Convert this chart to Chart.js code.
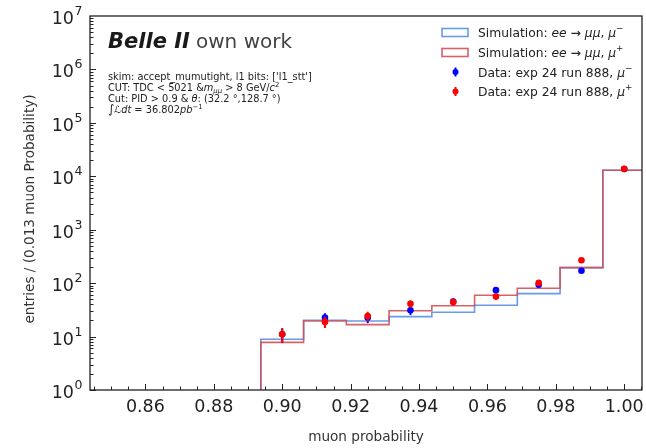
<!DOCTYPE html>
<html>
<head>
<meta charset="utf-8">
<script src="https://cdn.jsdelivr.net/npm/chart.js@4.4.1/dist/chart.umd.min.js"></script>
<style>
  body { margin: 0; background: #fff; }
</style>
</head>
<body>
<canvas id="muonChart" width="646" height="448"></canvas>
<script>
// bins of muon probability (width 0.0125)
const binEdges = [0.89375, 0.90625, 0.91875, 0.93125, 0.94375, 0.95625, 0.96875, 0.98125, 0.99375, 1.00625];
const binCenters = [0.9, 0.9125, 0.925, 0.9375, 0.95, 0.9625, 0.975, 0.9875, 1.0];

// simulation, scaled to data
const simMuMinus = [8.9, 20.2, 19.6, 23.6, 28.5, 38.6, 63.6, 195, 13000];
const simMuPlus = [7.8, 19.6, 16.7, 30.5, 37.7, 59.3, 80.2, 195, 13000];

// data exp 24 run 888
const dataMuMinus = [11, 22.6, 22.6, 31, 45, 74, 93, 171, 13700];
const dataMuPlus = [11, 18.8, 24.3, 41, 44.5, 56, 101, 268, 13760];

const xTicks = [0.86, 0.88, 0.90, 0.92, 0.94, 0.96, 0.98, 1.00];
const yExponents = [0, 1, 2, 3, 4, 5, 6, 7];

const FONT = '"DejaVu Sans", sans-serif';
const BLUE_SIM = 'rgba(95, 148, 235, 0.95)';
const RED_SIM = 'rgba(212, 80, 85, 0.9)';

// step outline: rise from the floor at the first edge, flat across each bin
function stepPoints(values) {
  const pts = [{ x: binEdges[0], y: 1e-3 }];
  values.forEach((v, i) => pts.push({ x: binEdges[i], y: v }));
  pts.push({ x: binEdges[binEdges.length - 1], y: values[values.length - 1] });
  return pts;
}

function points(values) {
  return values.map((v, i) => ({ x: binCenters[i], y: v }));
}

// draws a run of text pieces with mixed style / super- and subscripts
function rich(ctx, x, y, parts, size) {
  parts.forEach(p => {
    if (typeof p === 'string') p = { t: p };
    const fs = size * (p.s || 1);
    ctx.font = (p.i ? 'italic ' : '') + fs + 'px ' + FONT;
    ctx.fillText(p.t, x, y + (p.dy || 0) * size);
    x += ctx.measureText(p.t).width;
  });
  return x;
}

const decorations = {
  id: 'decorations',
  beforeDatasetDraw(chart, args) {
    const ds = chart.data.datasets[args.index];
    if (!ds.errors) return;
    const { x, y } = chart.scales;
    const ctx = chart.ctx;
    ctx.save();
    ctx.beginPath();
    ctx.rect(chart.chartArea.left, chart.chartArea.top, chart.chartArea.width, chart.chartArea.height);
    ctx.clip();
    ctx.strokeStyle = ds.backgroundColor;
    ctx.lineWidth = 2;
    ds.data.forEach((p, i) => {
      const e = ds.errors[i];
      const px = x.getPixelForValue(p.x);
      ctx.beginPath();
      ctx.moveTo(px, y.getPixelForValue(Math.max(p.y - e, 1e-3)));
      ctx.lineTo(px, y.getPixelForValue(p.y + e));
      ctx.stroke();
    });
    ctx.restore();
  },
  afterDraw(chart) {
    const ctx = chart.ctx;
    const { left, right, top, bottom } = chart.chartArea;
    const { x, y } = chart.scales;
    ctx.save();
    ctx.strokeStyle = '#222';
    ctx.fillStyle = '#222';

    // frame
    ctx.lineWidth = 1.3;
    ctx.strokeRect(left, top, right - left, bottom - top);

    // x ticks, pointing inward
    ctx.lineWidth = 1;
    for (let k = 169; k <= 201; k++) {
      const px = Math.round(x.getPixelForValue(k * 0.005)) + 0.5;
      const len = k % 4 === 0 ? 6 : 3.5;
      ctx.beginPath();
      ctx.moveTo(px, bottom);
      ctx.lineTo(px, bottom - len);
      ctx.stroke();
    }
    // y ticks (decades and minors)
    for (let n = 0; n < 7; n++) {
      for (let m = 1; m <= 9; m++) {
        const py = Math.round(y.getPixelForValue(m * Math.pow(10, n))) + 0.5;
        const len = m === 1 ? 6 : 3.5;
        ctx.beginPath();
        ctx.moveTo(left, py);
        ctx.lineTo(left + len, py);
        ctx.stroke();
      }
    }

    // tick labels
    ctx.textBaseline = 'alphabetic';
    ctx.textAlign = 'center';
    ctx.font = '17.5px ' + FONT;
    xTicks.forEach(v => {
      ctx.fillText(v.toFixed(2), x.getPixelForValue(v), bottom + 22);
    });
    yExponents.forEach(n => {
      const py = y.getPixelForValue(Math.pow(10, n));
      ctx.textAlign = 'right';
      ctx.font = '17.5px ' + FONT;
      ctx.fillText('10', 74, py + 8);
      ctx.textAlign = 'left';
      ctx.font = '12.5px ' + FONT;
      ctx.fillText(String(n), 74.5, py - 1);
    });

    // axis titles
    ctx.fillStyle = '#333';
    ctx.textAlign = 'center';
    ctx.font = '13.6px ' + FONT;
    ctx.fillText('muon probability', (left + right) / 2, 441);
    ctx.save();
    ctx.translate(34, (top + bottom) / 2 + 6);
    ctx.rotate(-Math.PI / 2);
    ctx.fillText('entries / (0.013 muon Probability)', 0, 0);
    ctx.restore();

    // experiment label
    ctx.textAlign = 'left';
    ctx.fillStyle = '#1a1a1a';
    ctx.font = 'italic bold 21px ' + FONT;
    ctx.fillText('Belle II', 108, 48);
    ctx.fillStyle = '#444';
    ctx.font = '20px ' + FONT;
    ctx.fillText('own work', 196, 48);

    // selection notes
    ctx.fillStyle = '#222';
    const fs = 9.8;
    rich(ctx, 108, 80, ["skim: accept_mumutight, l1 bits: ['l1_stt']"], fs);
    rich(ctx, 108, 91, ['CUT: TDC < 5021 &', { t: 'm', i: true }, { t: 'μμ', i: true, s: 0.7, dy: 0.25 },
      ' > 8 GeV/', { t: 'c', i: true }, { t: '2', s: 0.7, dy: -0.4 }], fs);
    rich(ctx, 108, 102, ['Cut: PID > 0.9 & ', { t: 'θ', i: true }, ': (32.2 °,128.7 °)'], fs);
    rich(ctx, 108, 113, [{ t: '∫', s: 1.2 }, { t: 'ℒdt', i: true }, ' = 36.802', { t: 'pb', i: true },
      { t: '−1', s: 0.7, dy: -0.4 }], fs);

    // legend
    const lf = 12.3;
    const rows = [
      { kind: 'box', color: BLUE_SIM, y: 32.5, sign: '−', text: ['Simulation: ', { t: 'ee', i: true }, ' → ', { t: 'μμ', i: true }, ', '] },
      { kind: 'box', color: RED_SIM, y: 52.5, sign: '+', text: ['Simulation: ', { t: 'ee', i: true }, ' → ', { t: 'μμ', i: true }, ', '] },
      { kind: 'dot', color: '#0000ff', y: 72, sign: '−', text: ['Data: exp 24 run 888, '] },
      { kind: 'dot', color: '#ff0000', y: 91.5, sign: '+', text: ['Data: exp 24 run 888, '] }
    ];
    rows.forEach(r => {
      ctx.save();
      if (r.kind === 'box') {
        ctx.strokeStyle = r.color;
        ctx.lineWidth = 1.6;
        ctx.strokeRect(442, r.y - 4, 26, 8);
      } else {
        ctx.strokeStyle = r.color;
        ctx.fillStyle = r.color;
        ctx.lineWidth = 2;
        ctx.beginPath();
        ctx.moveTo(455.5, r.y - 4.5);
        ctx.lineTo(455.5, r.y + 4.5);
        ctx.stroke();
        ctx.beginPath();
        ctx.arc(455.5, r.y, 3, 0, Math.PI * 2);
        ctx.fill();
      }
      ctx.restore();
      ctx.fillStyle = '#222';
      rich(ctx, 478, r.y + 4.5, r.text.concat([{ t: 'μ', i: true }, { t: r.sign, s: 0.72, dy: -0.45 }]), lf);
    });
    ctx.restore();
  }
};

const stepStyle = {
  type: 'line',
  stepped: true,
  borderWidth: 1.6,
  pointRadius: 0,
  fill: false
};

new Chart(document.getElementById('muonChart'), {
  data: {
    datasets: [
      Object.assign({}, stepStyle, {
        label: 'Simulation: ee → μμ, μ−',
        data: stepPoints(simMuMinus),
        borderColor: BLUE_SIM,
        order: 4
      }),
      Object.assign({}, stepStyle, {
        label: 'Simulation: ee → μμ, μ+',
        data: stepPoints(simMuPlus),
        borderColor: RED_SIM,
        order: 3
      }),
      {
        type: 'scatter',
        label: 'Data: exp 24 run 888, μ−',
        data: points(dataMuMinus),
        errors: dataMuMinus.map(Math.sqrt),
        backgroundColor: '#0000ff',
        borderWidth: 0,
        pointRadius: 3.3,
        order: 2
      },
      {
        type: 'scatter',
        label: 'Data: exp 24 run 888, μ+',
        data: points(dataMuPlus),
        errors: dataMuPlus.map(Math.sqrt),
        backgroundColor: '#ff0000',
        borderWidth: 0,
        pointRadius: 3.3,
        order: 1
      }
    ]
  },
  options: {
    responsive: false,
    animation: false,
    devicePixelRatio: 1,
    layout: { padding: { left: 90, right: 4, top: 16, bottom: 58 } },
    plugins: {
      legend: { display: false },
      tooltip: { enabled: false }
    },
    scales: {
      x: { type: 'linear', display: false, min: 0.8438, max: 1.0052 },
      y: { type: 'logarithmic', display: false, min: 1, max: 1e7 }
    }
  },
  plugins: [decorations]
});
</script>
</body>
</html>
